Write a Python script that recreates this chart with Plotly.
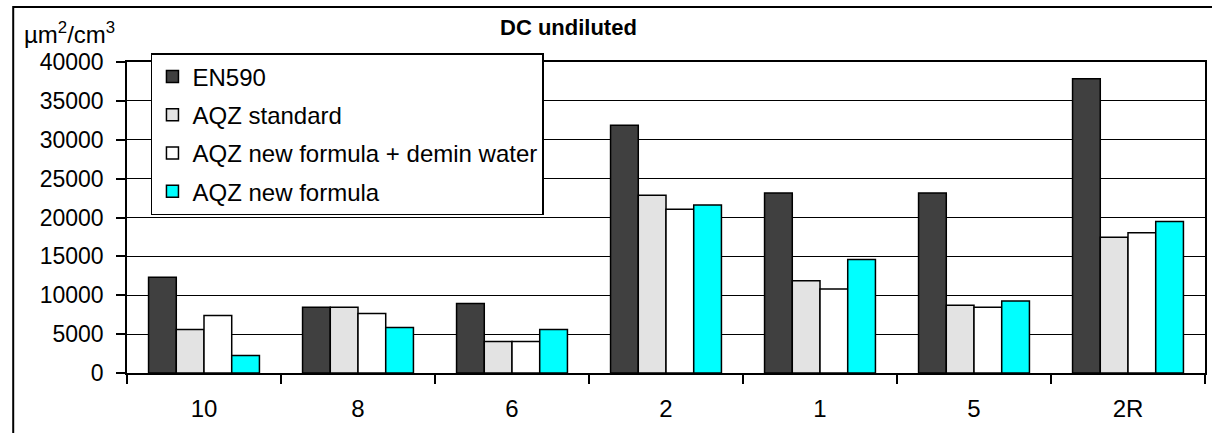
import plotly.graph_objects as go

categories = ["10", "8", "6", "2", "1", "5", "2R"]
series_names = ["EN590", "AQZ standard", "AQZ new formula + demin water", "AQZ new formula"]
en590 = [12300, 8450, 8950, 31850, 23150, 23150, 37850]
aqz_standard = [5600, 8450, 4050, 22850, 11850, 8700, 17450]
aqz_demin = [7400, 7650, 4050, 21050, 10800, 8450, 18050]
aqz_new = [2250, 5850, 5600, 21600, 14600, 9250, 19500]
y_ticks = [0, 5000, 10000, 15000, 20000, 25000, 30000, 35000, 40000]

colors = ["#404040", "#e3e3e3", "#ffffff", "#00ffff"]
series = [en590, aqz_standard, aqz_demin, aqz_new]

W, H = 1212, 433
L, R, T, B = 127, 5, 62, 60
pw, ph = W - L - R, H - T - B

def px(x):
    return (x - L) / pw

def py(y):
    return (H - B - y) / ph

font = "Liberation Sans, Arial, sans-serif"

fig = go.Figure()
for name, vals, col in zip(series_names, series, colors):
    fig.add_trace(go.Bar(
        x=categories, y=vals, name=name, legendgroup=name,
        marker=dict(color=col, line=dict(color="black", width=1.5)),
    ))

fig.update_layout(
    width=W, height=H,
    margin=dict(l=L, r=R, t=T, b=B),
    paper_bgcolor="white", plot_bgcolor="white",
    barmode="group", bargap=0.28, bargroupgap=0,
    font=dict(family=font, color="black"),
    showlegend=True,
    legend=dict(
        x=px(151), y=py(53), xanchor="left", yanchor="top",
        bgcolor="white", bordercolor="black", borderwidth=1.5,
        font=dict(size=24, family=font, color="black"),
        tracegroupgap=4, itemwidth=30,
    ),
    xaxis=dict(
        type="category", showline=True, linecolor="black", linewidth=1.5,
        mirror=True, ticks="outside", tickson="boundaries", ticklen=9,
        tickcolor="black", tickwidth=1.5, showgrid=False,
        tickfont=dict(size=24, family=font, color="black"),
        ticklabelstandoff=13,
    ),
    yaxis=dict(
        range=[0, 40000], tickvals=y_ticks, ticktext=[str(v) for v in y_ticks],
        showline=True, linecolor="black", linewidth=1.5, mirror=True,
        ticks="outside", ticklen=9, tickcolor="black", tickwidth=1.5,
        showgrid=True, gridcolor="black", gridwidth=1,
        tickfont=dict(size=23, family=font, color="black"),
        ticklabelstandoff=8, zeroline=False,
    ),
    annotations=[
        dict(text="<b>DC undiluted</b>", x=px(569), y=py(28), xref="paper", yref="paper",
             xanchor="center", yanchor="middle", showarrow=False,
             font=dict(size=22, family=font, color="black")),
        dict(text="µm<sup>2</sup>/cm<sup>3</sup>", x=px(22), y=py(33), xref="paper", yref="paper",
             xanchor="left", yanchor="middle", showarrow=False,
             font=dict(size=24, family=font, color="black")),
    ],
    shapes=[
        dict(type="rect", xref="paper", yref="paper",
             x0=px(13), x1=px(1260), y0=py(480), y1=py(7),
             line=dict(color="black", width=2), fillcolor="rgba(0,0,0,0)", layer="above"),
    ],
)

fig.write_html("out.html")
